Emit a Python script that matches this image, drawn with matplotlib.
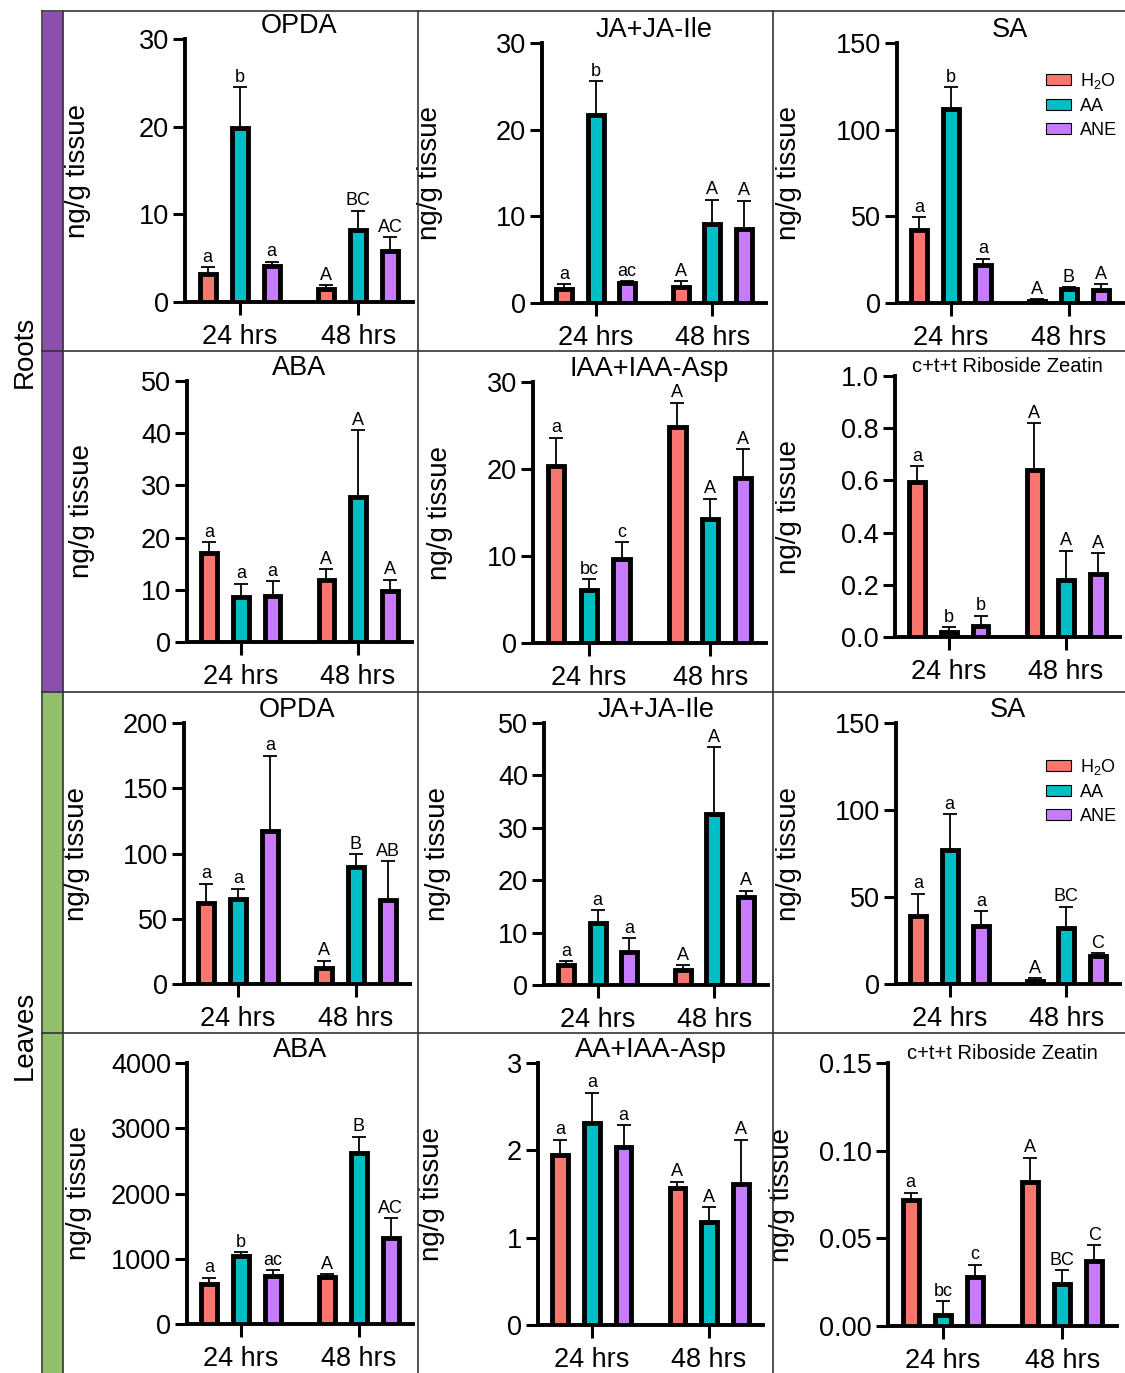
import numpy as np
import matplotlib
matplotlib.use('Agg')
import matplotlib.pyplot as plt
from matplotlib.patches import Patch, Rectangle
from matplotlib.lines import Line2D
from matplotlib.ticker import FormatStrFormatter

plt.rcParams['font.family'] = ['Liberation Sans', 'DejaVu Sans']
plt.rcParams['mathtext.default'] = 'regular'

# ---- data ----
groups = ['24 hrs', '48 hrs']
treatments = ['H$_2$O', 'AA', 'ANE']
colors = ['#F8766D', '#00BFC4', '#C77CFF']

# roots
r_opda_mean = [[3.2, 19.8, 4.1], [1.5, 8.2, 5.8]]
r_opda_err = [[0.8, 4.7, 0.5], [0.4, 2.2, 1.6]]
r_opda_sig = [['a', 'b', 'a'], ['A', 'BC', 'AC']]

r_ja_mean = [[1.6, 21.7, 2.3], [1.9, 9.1, 8.5]]
r_ja_err = [[0.6, 3.9, 0.2], [0.6, 2.8, 3.3]]
r_ja_sig = [['a', 'b', 'ac'], ['A', 'A', 'A']]

r_sa_mean = [[42, 112, 22], [1.0, 8.3, 7.5]]
r_sa_err = [[7.5, 12.5, 3.5], [1.3, 0.9, 3.5]]
r_sa_sig = [['a', 'b', 'a'], ['A', 'B', 'A']]

r_aba_mean = [[17.0, 8.6, 8.9], [11.8, 27.8, 9.7]]
r_aba_err = [[2.1, 2.6, 2.7], [2.2, 12.8, 2.2]]
r_aba_sig = [['a', 'a', 'a'], ['A', 'A', 'A']]

r_iaa_mean = [[20.4, 6.1, 9.6], [24.8, 14.2, 19.0]]
r_iaa_err = [[3.2, 1.2, 2.0], [2.8, 2.4, 3.3]]
r_iaa_sig = [['a', 'bc', 'c'], ['A', 'A', 'A']]

r_zea_mean = [[0.595, 0.018, 0.042], [0.64, 0.22, 0.24]]
r_zea_err = [[0.06, 0.02, 0.04], [0.18, 0.11, 0.08]]
r_zea_sig = [['a', 'b', 'b'], ['A', 'A', 'A']]

# leaves
l_opda_mean = [[62, 65, 117], [12.5, 90, 64]]
l_opda_err = [[15, 8, 58], [5.5, 9.5, 30]]
l_opda_sig = [['a', 'a', 'a'], ['A', 'B', 'AB']]

l_ja_mean = [[3.9, 11.8, 6.3], [2.9, 32.6, 16.7]]
l_ja_err = [[0.6, 2.5, 2.6], [0.9, 12.8, 1.3]]
l_ja_sig = [['a', 'a', 'a'], ['A', 'A', 'A']]

l_sa_mean = [[39, 77, 33.5], [2, 32, 16]]
l_sa_err = [[13, 20.5, 8.5], [1.5, 12.5, 1.8]]
l_sa_sig = [['a', 'a', 'a'], ['A', 'BC', 'C']]

l_aba_mean = [[620, 1040, 740], [715, 2620, 1320]]
l_aba_err = [[90, 60, 80], [50, 250, 300]]
l_aba_sig = [['a', 'b', 'ac'], ['A', 'B', 'AC']]

l_iaa_mean = [[1.95, 2.31, 2.04], [1.57, 1.18, 1.61]]
l_iaa_err = [[0.17, 0.35, 0.25], [0.07, 0.17, 0.51]]
l_iaa_sig = [['a', 'a', 'a'], ['A', 'A', 'A']]

l_zea_mean = [[0.072, 0.006, 0.028], [0.082, 0.024, 0.037]]
l_zea_err = [[0.004, 0.008, 0.007], [0.014, 0.008, 0.009]]
l_zea_sig = [['a', 'bc', 'c'], ['A', 'BC', 'C']]

# title, mean, err, letters, y ticks, tick format
panels = [
    ('OPDA', r_opda_mean, r_opda_err, r_opda_sig, [0, 10, 20, 30], '%d'),
    ('JA+JA-Ile', r_ja_mean, r_ja_err, r_ja_sig, [0, 10, 20, 30], '%d'),
    ('SA', r_sa_mean, r_sa_err, r_sa_sig, [0, 50, 100, 150], '%d'),
    ('ABA', r_aba_mean, r_aba_err, r_aba_sig, [0, 10, 20, 30, 40, 50], '%d'),
    ('IAA+IAA-Asp', r_iaa_mean, r_iaa_err, r_iaa_sig, [0, 10, 20, 30], '%d'),
    ('c+t+t Riboside Zeatin', r_zea_mean, r_zea_err, r_zea_sig,
     [0.0, 0.2, 0.4, 0.6, 0.8, 1.0], '%.1f'),
    ('OPDA', l_opda_mean, l_opda_err, l_opda_sig, [0, 50, 100, 150, 200], '%d'),
    ('JA+JA-Ile', l_ja_mean, l_ja_err, l_ja_sig, [0, 10, 20, 30, 40, 50], '%d'),
    ('SA', l_sa_mean, l_sa_err, l_sa_sig, [0, 50, 100, 150], '%d'),
    ('ABA', l_aba_mean, l_aba_err, l_aba_sig, [0, 1000, 2000, 3000, 4000], '%d'),
    ('AA+IAA-Asp', l_iaa_mean, l_iaa_err, l_iaa_sig, [0, 1, 2, 3], '%d'),
    ('c+t+t Riboside Zeatin', l_zea_mean, l_zea_err, l_zea_sig,
     [0.00, 0.05, 0.10, 0.15], '%.2f'),
]

# ---- layout (pixels: left, right, top, bottom) ----
W, H = 1125, 1373
boxes = [
    (185, 413, 39, 302), (542, 766, 43, 303), (897, 1123, 43, 303),
    (187, 412, 381, 642), (533, 766, 382, 643), (895, 1120, 376, 637),
    (184, 410, 723, 984), (544, 768, 723, 985), (896, 1120, 723, 984),
    (187, 413, 1063, 1324), (538, 763, 1063, 1325), (888, 1117, 1063, 1326),
]
# right edge of the rotated y label, in pixels
ylab_x = [91, 443, 802, 95, 453, 802, 90, 451, 802, 92, 445, 795]

fig = plt.figure(figsize=(W / 100, H / 100), dpi=100)

def fx(px):
    return px / W

def fy(py):
    return 1 - py / H

offsets = [-0.27, 0, 0.27]

for i, (title, mean, err, sig, yt, fmt) in enumerate(panels):
    l, r, t, b = boxes[i]
    ax = fig.add_axes([fx(l), fy(b), (r - l) / W, (b - t) / H])
    for g in range(2):
        for k in range(3):
            x = g + offsets[k]
            ax.bar(x, mean[g][k], width=0.135, color=colors[k], edgecolor='black',
                   linewidth=3.5, zorder=3)
            ax.errorbar(x, mean[g][k], yerr=[[0], [err[g][k]]], fmt='none',
                        ecolor='black', elinewidth=1.3, capsize=5, capthick=1.3,
                        zorder=2)
            ax.annotate(sig[g][k], (x, mean[g][k] + err[g][k]), xytext=(0, 1),
                        textcoords='offset points', ha='center', va='bottom',
                        fontsize=13)
    ax.set_xlim(-0.46, 1.46)
    ax.set_ylim(yt[0], yt[-1])
    ax.set_yticks(yt)
    ax.yaxis.set_major_formatter(FormatStrFormatter(fmt))
    ax.set_xticks([0, 1])
    ax.set_xticklabels(groups)
    for s in ['top', 'right']:
        ax.spines[s].set_visible(False)
    for s in ['left', 'bottom']:
        ax.spines[s].set_linewidth(2.8)
    ax.tick_params(axis='y', length=8.5, width=2.2, labelsize=19.5, pad=3)
    ax.tick_params(axis='x', length=9.5, width=2.2, labelsize=19.5, pad=6)
    ax.set_ylabel('ng/g tissue', fontsize=20)
    ax.yaxis.set_label_coords(-(l - ylab_x[i]) / (r - l), 0.5)
    ax.patch.set_alpha(0)
    if 'Zeatin' in title:
        ax.set_title(title, fontsize=14.5, pad=0)
    else:
        ax.set_title(title, fontsize=19.5, pad=2)

    if title == 'SA':
        handles = [Patch(facecolor=c, edgecolor='black', linewidth=0.8) for c in colors]
        top_px = 71 if i == 2 else 757
        fig.legend(handles, treatments, loc='upper left',
                   bbox_to_anchor=(fx(1046), fy(top_px)), frameon=False,
                   fontsize=13, handlelength=1.4, handleheight=0.55,
                   handletextpad=0.5, labelspacing=0.38, borderaxespad=0,
                   borderpad=0)

# ---- frame lines and row strips ----
line_kw = dict(color='#333333', linewidth=1.2, transform=fig.transFigure)
fig.add_artist(Line2D([fx(42), 1], [fy(11), fy(11)], **line_kw))
for yy in [351, 692, 1033]:
    fig.add_artist(Line2D([fx(42), 1], [fy(yy), fy(yy)], **line_kw))
for xx in [42, 63, 418, 773]:
    fig.add_artist(Line2D([fx(xx), fx(xx)], [fy(11), 0], **line_kw))

fig.add_artist(Rectangle((fx(43), fy(692)), 19 / W, (692 - 12) / H,
                         transform=fig.transFigure, color='#8B50AE', zorder=0))
fig.add_artist(Rectangle((fx(43), 0), 19 / W, (1373 - 692) / H,
                         transform=fig.transFigure, color='#93BF6B', zorder=0))
fig.text(fx(25), fy(352), 'Roots', rotation=90, ha='center', va='center', fontsize=20)
fig.text(fx(25), fy(1035), 'Leaves', rotation=90, ha='center', va='center', fontsize=20)

plt.savefig('out.png', dpi=100)
